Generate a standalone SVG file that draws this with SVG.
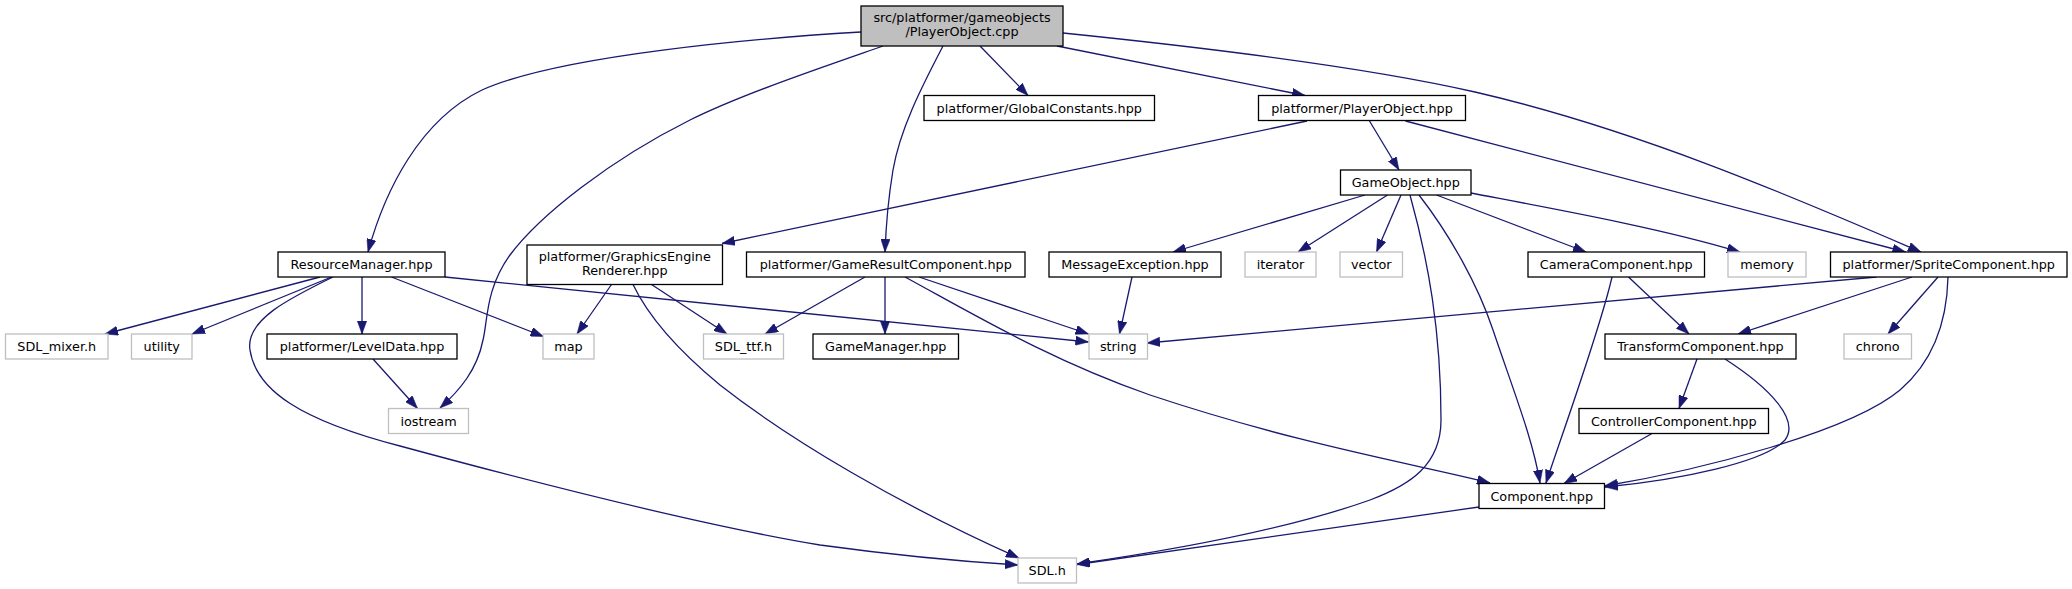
<svg xmlns="http://www.w3.org/2000/svg" width="2072" height="589" viewBox="0 0 2072 589">
<style>
.n rect{fill:#ffffff;stroke:#000000;stroke-width:1.3}
.g rect{fill:#ffffff;stroke:#bfbfbf;stroke-width:1.3}
.root rect{fill:#bfbfbf;stroke:#000000;stroke-width:1.3}
text{font-family:"DejaVu Sans","Liberation Sans",sans-serif;font-size:12.8px;fill:#000000;text-anchor:middle}
#edges path{fill:none;stroke:#191970;stroke-width:1.3;marker-end:url(#arr)}
</style>
<defs>
<marker id="arr" markerUnits="userSpaceOnUse" viewBox="0 0 13 9.4" refX="13" refY="4.7" markerWidth="13" markerHeight="9.4" orient="auto">
<path d="M0,0 L13,4.7 L0,9.4 z" fill="#191970" stroke="#191970" stroke-width="0.5"/>
</marker>
</defs>
<rect x="0" y="0" width="2072" height="589" fill="#ffffff"/>
<g id="edges">
<path d="M861,32 C760,38 560,55 482,90 C420,120 385,190 368,252"/>
<path d="M883,46 C820,68 740,95 690,120 C610,160 540,215 510,255 C485,290 488,320 483,340 C477,370 460,390 440,408"/>
<path d="M943,46 C920,90 900,130 893,170 C888,200 886,225 885,252"/>
<path d="M980,46 L1028,95.5"/>
<path d="M1057,46 L1305,95.5"/>
<path d="M1063,33 C1200,47 1370,68 1475,92 C1640,130 1800,200 1921,252"/>
<path d="M1369.5,121 L1399,170"/>
<path d="M1307,121 L722,243.5"/>
<path d="M1405.5,121 L1905.5,252"/>
<path d="M1365,195 L1173,252"/>
<path d="M1387.5,195 L1298,252"/>
<path d="M1401,195 L1376.5,252"/>
<path d="M1436.5,195 L1586,252"/>
<path d="M1471,193 C1560,210 1660,228 1740,252"/>
<path d="M1410,195 C1428,260 1441,330 1441,420 C1441,465 1410,485 1370,500 C1280,532 1160,552 1077,564"/>
<path d="M1419,195 C1450,235 1478,285 1493,330 C1515,395 1533,440 1540,483"/>
<path d="M1628.5,277 L1689,334"/>
<path d="M1612,277 C1600,330 1560,440 1546,483"/>
<path d="M1876.5,277 L1147,343"/>
<path d="M1912,277 L1738,334"/>
<path d="M1938,277 L1888,334"/>
<path d="M1948,277 C1947,320 1935,360 1900,390 C1850,432 1700,470 1604.5,486"/>
<path d="M1697,359 L1679,408.5"/>
<path d="M1725,359 C1770,388 1800,420 1785,440 C1765,462 1680,480 1605,487"/>
<path d="M1652,433.5 L1564,483.5"/>
<path d="M1479,507 L1077,564.5"/>
<path d="M865,277 L765,334"/>
<path d="M885,277 L885,334"/>
<path d="M919,277 L1088.5,334"/>
<path d="M905,277 C975,315 1050,360 1150,395 C1300,445 1420,465 1490,483"/>
<path d="M320,277 L105,334"/>
<path d="M331.5,277 L192,334"/>
<path d="M333,277 C290,298 245,320 250,350 C256,390 300,420 400,446 C540,484 700,525 820,545 C900,556 970,562 1018,565"/>
<path d="M362,277 L362,334"/>
<path d="M391.5,277 L543.5,336.5"/>
<path d="M445,277 L1088.5,342"/>
<path d="M611.5,284.5 L577,334"/>
<path d="M651.5,284.5 L727,334"/>
<path d="M633,284.5 C650,320 680,352 720,385 C790,440 900,505 1019,558"/>
<path d="M1132,277 L1119.5,334"/>
<path d="M373,359 L417.5,408.5"/>
</g>
<g id="node-playerobject-cpp" class="root"><rect x="861" y="6" width="202" height="40"/><text x="962" y="21.5">src/platformer/gameobjects</text><text x="962" y="36">/PlayerObject.cpp</text></g>
<g id="node-globalconstants" class="n"><rect x="924" y="95.5" width="230.5" height="25"/><text x="1039.25" y="112.8">platformer/GlobalConstants.hpp</text></g>
<g id="node-playerobject-hpp" class="n"><rect x="1258.5" y="95.5" width="207" height="25"/><text x="1362" y="112.8">platformer/PlayerObject.hpp</text></g>
<g id="node-gameobject" class="n"><rect x="1340.5" y="170" width="130.5" height="25"/><text x="1405.75" y="187.3">GameObject.hpp</text></g>
<g id="node-resourcemanager" class="n"><rect x="278" y="252" width="167" height="25"/><text x="361.5" y="269.3">ResourceManager.hpp</text></g>
<g id="node-graphicsengine" class="n"><rect x="527" y="245" width="195.5" height="39.5"/><text x="624.75" y="260.5">platformer/GraphicsEngine</text><text x="624.75" y="275">Renderer.hpp</text></g>
<g id="node-gameresult" class="n"><rect x="746.5" y="252" width="278.5" height="25"/><text x="885.75" y="269.3">platformer/GameResultComponent.hpp</text></g>
<g id="node-messageexception" class="n"><rect x="1049" y="252" width="172" height="25"/><text x="1135" y="269.3">MessageException.hpp</text></g>
<g id="node-iterator" class="g"><rect x="1245" y="252" width="71" height="25"/><text x="1280.5" y="269.3">iterator</text></g>
<g id="node-vector" class="g"><rect x="1340" y="252" width="62.5" height="25"/><text x="1371.25" y="269.3">vector</text></g>
<g id="node-camera" class="n"><rect x="1528" y="252" width="176.5" height="25"/><text x="1616.25" y="269.3">CameraComponent.hpp</text></g>
<g id="node-memory" class="g"><rect x="1728" y="252" width="78" height="25"/><text x="1767" y="269.3">memory</text></g>
<g id="node-sprite" class="n"><rect x="1830.5" y="252" width="236.5" height="25"/><text x="1948.75" y="269.3">platformer/SpriteComponent.hpp</text></g>
<g id="node-sdl-mixer" class="g"><rect x="5.5" y="334" width="102.5" height="25"/><text x="56.75" y="351.3">SDL_mixer.h</text></g>
<g id="node-utility" class="g"><rect x="131.5" y="334" width="60.5" height="25"/><text x="161.75" y="351.3">utility</text></g>
<g id="node-leveldata" class="n"><rect x="267" y="334" width="190" height="25"/><text x="362" y="351.3">platformer/LevelData.hpp</text></g>
<g id="node-map" class="g"><rect x="543" y="334" width="51" height="25"/><text x="568.5" y="351.3">map</text></g>
<g id="node-sdl-ttf" class="g"><rect x="703.5" y="334" width="80" height="25"/><text x="743.5" y="351.3">SDL_ttf.h</text></g>
<g id="node-gamemanager" class="n"><rect x="813" y="334" width="145.5" height="25"/><text x="885.75" y="351.3">GameManager.hpp</text></g>
<g id="node-string" class="g"><rect x="1089" y="334" width="58.5" height="25"/><text x="1118.25" y="351.3">string</text></g>
<g id="node-transform" class="n"><rect x="1605" y="334" width="191" height="25"/><text x="1700.5" y="351.3">TransformComponent.hpp</text></g>
<g id="node-chrono" class="g"><rect x="1844" y="334" width="67.5" height="25"/><text x="1877.75" y="351.3">chrono</text></g>
<g id="node-iostream" class="g"><rect x="388.5" y="408.5" width="80" height="25"/><text x="428.5" y="425.8">iostream</text></g>
<g id="node-controller" class="n"><rect x="1579" y="408.5" width="189.5" height="25"/><text x="1673.75" y="425.8">ControllerComponent.hpp</text></g>
<g id="node-component" class="n"><rect x="1479" y="483.5" width="125.5" height="25"/><text x="1541.75" y="500.8">Component.hpp</text></g>
<g id="node-sdl" class="g"><rect x="1018" y="558" width="58.5" height="25"/><text x="1047.25" y="575.3">SDL.h</text></g>
</svg>
